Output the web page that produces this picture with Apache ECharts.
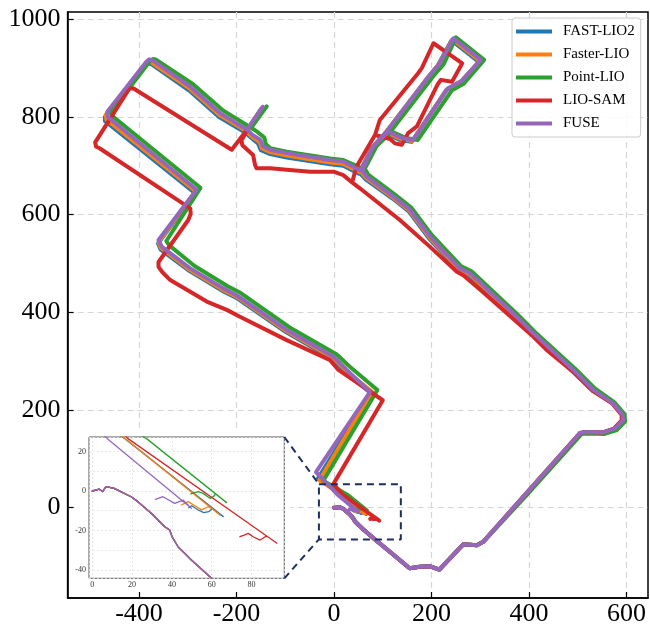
<!DOCTYPE html>
<html><head><meta charset="utf-8">
<script src="https://cdn.jsdelivr.net/npm/echarts@6/dist/echarts.min.js"></script>
<style>html,body{margin:0;padding:0;background:#fff}#c{width:650px;height:629px}</style>
</head><body><div id="c"></div>
<script>
const seriesNames = ['FAST-LIO2','Faster-LIO','Point-LIO','LIO-SAM','FUSE'];
const seriesColors = ['#1f77b4','#ff7f0e','#2ca02c','#d62728','#9467bd'];
const xTicks = [-400,-200,0,200,400,600];
const yTicks = [0,200,400,600,800,1000];
const insetXTicks = [0,20,40,60,80];
const insetYTicks = [-40,-20,0,20];
const zoomBoxX = [-31,137];
const zoomBoxY = [-65,48];

// shared beginning of all trajectories (identical start)
const commonStart = [[0,0],[3.5,0.9],[5.2,-0.3],[6.9,2.2],[11,1.3],[19.5,-2.9],[22.9,-5.4],[29.6,-11.3],[36.4,-18.1],[38.9,-19.8],[40.1,-23.2],[43.1,-28.3],[49.8,-35],[59.1,-43.5],[84,-65],[120,-95],[155,-124],[176,-121],[197,-120],[216,-127],[265,-75],[293,-77],[306,-70]];

const fastLio2 = [[388,22],[505,153],[518,155],[552,154],[576,162],[593,179],[592,190],[573,213],[531,239],[489,279],[407,354],[373,388],[277,476],[256,486],[195,551],[154,606],[120,633],[64,673],[54,684],[76,735],[104,766],[193,882],[213,906],[241,957],[297,913],[258,870],[230,855],[159,749],[135,753],[107,766],[76,735],[51,684],[19,700],[-8,703],[-97,717],[-131,724],[-150,732],[-156,746],[-172,759],[-182,768],[-150,816],[-182,768],[-236,800],[-297,854],[-374,908],[-381,910],[-387,905],[-470,800],[-470,792],[-466,788],[-285,644],[-361,541],[-356,529],[-297,485],[-229,444],[-201,430],[-98,359],[-2,304],[25,277],[76,234],[-33,60],[16.2,26.7],[65.8,-13],[60.5,-8.7],[58.5,-10.5],[56,-11],[53,-9.5],[50,-7.5],[48.5,-8.5]];

const fasterLio = [[388,22],[505,153],[518,155],[552,154],[576,162],[593,179],[592,190],[573,213],[531,240],[490,281],[408,356],[374,390],[278,478],[257,488],[196,553],[155,608],[121,635],[65,676],[56,687],[78,737],[106,768],[195,884],[215,908],[243,959],[299,915],[260,872],[232,857],[161,751],[137,755],[109,768],[78,737],[53,687],[19,704],[-8,707],[-97,721],[-131,728],[-148,736],[-153,749],[-170,761],[-180,771],[-148,818],[-180,771],[-235,804],[-296,858],[-375,912],[-381,914],[-386,909],[-468,805],[-467,795],[-463,792],[-284,648],[-360,544],[-355,532],[-296,487],[-228,446],[-200,432],[-97,361],[-1,306],[26,279],[78,237],[-30,56],[16,27],[64.1,-12.2],[60,-8.9],[58.2,-8],[54.9,-9.6],[52.4,-8],[48.1,-5.4],[44.8,-7.1]];

const pointLio = [[391,21],[508,151],[521,152],[555,151],[580,159],[597,176],[596,191],[576,215],[535,244],[494,285],[412,360],[378,394],[282,484],[261,494],[200,559],[159,614],[125,641],[70,682],[63,694],[87,740],[116,770],[204,884],[225,908],[250,963],[308,917],[266,868],[242,855],[172,753],[148,757],[118,770],[87,740],[60,694],[19,712],[-8,715],[-97,729],[-131,736],[-140,745],[-143,758],[-158,770],[-170,778],[-138,822],[-170,778],[-227,813],[-289,867],[-366,918],[-371,919],[-377,915],[-456,812],[-456,803],[-452,799],[-274,655],[-344,546],[-338,537],[-286,495],[-219,454],[-192,440],[-91,369],[5,314],[33,288],[89,241],[-22,55],[27.1,26.7],[67.5,-5.9],[62,-1.5],[60.8,-2.9],[59.1,-3.7],[55.7,-1.2],[53.2,-0.3],[49.5,-1.5]];

const lioSam = [[388,22],[505,153],[518,155],[552,154],[574,162],[590,179],[590,190],[571,213],[530,240],[491,278],[436,323],[409,350],[300,446],[265,476],[252,483],[197,534],[135,589],[53,654],[37,666],[46,698],[84,763],[94,794],[172,889],[180,900],[204,951],[263,910],[242,872],[219,876],[212,866],[170,781],[152,767],[139,743],[125,746],[115,755],[84,763],[46,698],[37,666],[19,681],[-1,688],[-49,688],[-97,692],[-131,695],[-159,695],[-162,702],[-166,722],[-188,742],[-190,752],[-176,777],[-210,733],[-412,859],[-420,858],[-490,748],[-488,739],[-481,736],[-295,613],[-294,602],[-299,589],[-360,503],[-360,493],[-352,482],[-336,466],[-261,422],[-220,405],[-193,391],[-97,343],[-8,302],[9,282],[100,220],[-1.4,48.2],[17.8,26.7],[92.8,-26.5],[88,-23.1],[86.9,-23.2],[84.3,-24.9],[80.8,-23.2],[78.4,-21.5],[76,-22.5],[74.2,-23.2]];

const fuse = [[388,22],[505,153],[518,155],[552,154],[576,162],[593,179],[592,190],[573,213],[532,241],[491,282],[409,357],[375,391],[279,480],[258,490],[197,555],[156,610],[122,637],[67,678],[58,690],[80,739],[108,770],[197,886],[217,910],[245,961],[301,917],[262,874],[234,859],[163,753],[139,757],[111,770],[80,739],[55,690],[19,709],[-8,712],[-97,726],[-131,733],[-146,740],[-151,753],[-168,764],[-178,774],[-146,821],[-178,774],[-234,808],[-295,862],[-372,916],[-379,918],[-385,913],[-465,811],[-464,800],[-460,796],[-282,651],[-360,548],[-353,534],[-295,490],[-227,449],[-200,435],[-97,364],[-1,309],[26,282],[74,237],[-37,73],[7.4,26.7],[49.8,-8.8],[45.6,-4.6],[41.4,-6.3],[35.5,-2.9],[31.7,-4.2]];

const trajectories = [fastLio2, fasterLio, pointLio, lioSam, fuse].map(t => commonStart.concat(t));

const serif = 'Liberation Serif, Times New Roman, serif';
const chart = echarts.init(document.getElementById('c'), null, {renderer:'canvas'});
const plain = v => String(v);

const main = trajectories.map((d,i)=>({
  name: seriesNames[i], type:'line', xAxisIndex:0, yAxisIndex:0, data:d,
  showSymbol:false, symbol:'none', z:2+i*0.01,
  itemStyle:{color:seriesColors[i]},
  lineStyle:{color:seriesColors[i], width:4, cap:'round', join:'round'}
}));
const inset = trajectories.map((d,i)=>({
  name: seriesNames[i], type:'line', xAxisIndex:1, yAxisIndex:1, data:d,
  showSymbol:false, symbol:'none', z:6, clip:true, silent:true,
  itemStyle:{color:seriesColors[i]},
  lineStyle:{color:seriesColors[i], width:1.3, cap:'round', join:'round'}
}));
const box = {
  name:'', type:'line', xAxisIndex:0, yAxisIndex:0, showSymbol:false, symbol:'none', z:8, silent:true,
  data:[[zoomBoxX[0],zoomBoxY[1]],[zoomBoxX[1],zoomBoxY[1]],[zoomBoxX[1],zoomBoxY[0]],[zoomBoxX[0],zoomBoxY[0]],[zoomBoxX[0],zoomBoxY[1]]],
  lineStyle:{color:'#1c2f5e', width:2, type:[7,5]}
};

const insetX = [-1.66, 96.5], insetY = [-44.3, 27.4];

const option = {
  animation:false,
  backgroundColor:'#fff',
  grid:[
    {left:67.6, top:12, right:2, bottom:31, show:true, borderColor:'#000', borderWidth:1.5, backgroundColor:'transparent'},
    {left:89, top:437, width:195.3, height:141.3, show:true, backgroundColor:'#fff', borderColor:'#555', borderWidth:1, z:4}
  ],
  xAxis:[
    {type:'value', gridIndex:0, min:-546.5, max:644,
     axisLine:{show:true, onZero:false, lineStyle:{color:'#000', width:1.5}},
     axisTick:{show:true, inside:true, length:6, customValues:xTicks, lineStyle:{color:'#000', width:1.2}},
     axisLabel:{customValues:xTicks, formatter:plain, margin:3, fontFamily:serif, fontSize:26, color:'#000'},
     splitLine:{show:true, lineStyle:{color:'#d6d6d6', width:1.2, type:[6,4]}}},
    {type:'value', gridIndex:1, min:insetX[0], max:insetX[1], z:5,
     axisLine:{show:false, onZero:false}, axisTick:{show:false},
     axisLabel:{customValues:insetXTicks, formatter:plain, margin:3, fontFamily:serif, fontSize:8, color:'#333'},
     splitLine:{show:true, lineStyle:{color:'#e2e2e2', width:0.8, type:[2,2]}}}
  ],
  yAxis:[
    {type:'value', gridIndex:0, min:-185, max:1015,
     axisLine:{show:true, onZero:false, lineStyle:{color:'#000', width:1.5}},
     axisTick:{show:true, inside:true, length:6, customValues:yTicks, lineStyle:{color:'#000', width:1.2}},
     axisLabel:{customValues:yTicks, formatter:plain, margin:7, fontFamily:serif, fontSize:26, color:'#000'},
     splitLine:{show:true, lineStyle:{color:'#d6d6d6', width:1.2, type:[6,4]}}},
    {type:'value', gridIndex:1, min:insetY[0], max:insetY[1], z:5,
     axisLine:{show:false, onZero:false}, axisTick:{show:false},
     axisLabel:{customValues:insetYTicks, formatter:plain, margin:3, fontFamily:serif, fontSize:8, color:'#333'},
     splitLine:{show:true, lineStyle:{color:'#e2e2e2', width:0.8, type:[2,2]}}}
  ],
  legend:{
    data:seriesNames, orient:'vertical', left:512, top:18, icon:'rect',
    itemWidth:36, itemHeight:4, itemGap:8, padding:[6,6,6,4],
    backgroundColor:'rgba(255,255,255,0.85)', borderColor:'#cccccc', borderWidth:1, borderRadius:3,
    itemStyle:{borderWidth:0},
    textStyle:{fontFamily:serif, fontSize:15, color:'#000', lineHeight:15, padding:[0,0,0,6]},
    selectedMode:false, z:20
  },
  series: main.concat(inset).concat([box])
};
chart.setOption(option);

// connectors from the inset corners to the dashed zoom box
const a1 = chart.convertToPixel({gridIndex:1}, [insetX[1], insetY[1]]);
const a2 = chart.convertToPixel({gridIndex:1}, [insetX[1], insetY[0]]);
const b1 = chart.convertToPixel({gridIndex:0}, [zoomBoxX[0], zoomBoxY[1]]);
const b2 = chart.convertToPixel({gridIndex:0}, [zoomBoxX[0], zoomBoxY[0]]);
chart.setOption({graphic:[
  {type:'rect', z:1, shape:{x:76, y:430, width:214, height:159}, style:{fill:'#fff'}, silent:true},
  {type:'line', z:30, shape:{x1:a1[0], y1:a1[1], x2:b1[0], y2:b1[1]}, style:{stroke:'#1c2f5e', lineWidth:2, lineDash:[7,5]}, silent:true},
  {type:'line', z:30, shape:{x1:a2[0], y1:a2[1], x2:b2[0], y2:b2[1]}, style:{stroke:'#1c2f5e', lineWidth:2, lineDash:[7,5]}, silent:true}
]});
</script></body></html>
